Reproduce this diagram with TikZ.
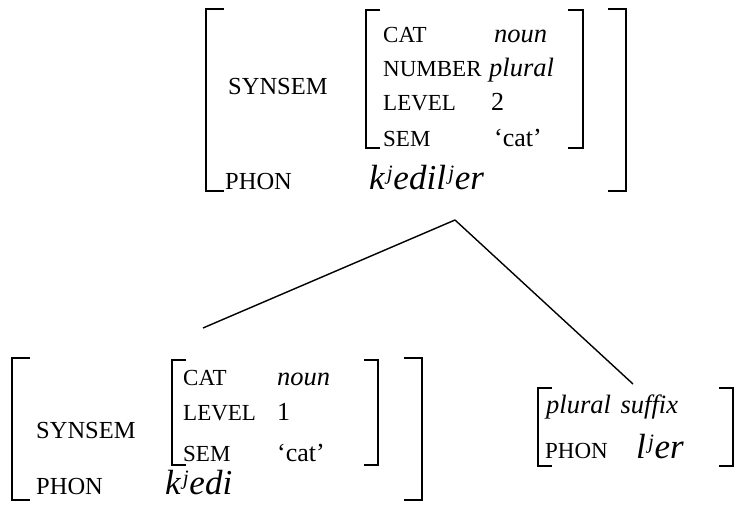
\documentclass[tikz,border=0pt]{standalone}
\usepackage{fontspec}
\setmainfont{Liberation Serif}[ItalicFont={Liberation Serif Italic}]
\newcommand{\pal}{\kern1pt ʲ\kern2pt}
\begin{document}
\begin{tikzpicture}[x=1pt,y=-1pt,
  lab/.style={anchor=base west,inner sep=0pt,font=\fontsize{23}{26}\selectfont},
  olab/.style={anchor=base west,inner sep=0pt,font=\fontsize{24.5}{27}\selectfont},
  val/.style={anchor=base west,inner sep=0pt,font=\fontsize{26.5}{29}\selectfont\itshape},
  num/.style={anchor=base west,inner sep=0pt,font=\fontsize{26}{29}\selectfont},
  phon/.style={anchor=base west,inner sep=0pt,font=\fontsize{35}{38}\selectfont\itshape},
  obr/.style={line width=2.6pt},
  ibr/.style={line width=2pt},
  branch/.style={line width=1.4pt}]
\useasboundingbox (0,0) rectangle (738,504);
% ---------- top AVM ----------
\draw[obr] (224,9) -| (206,191) -- (224,191);
\draw[obr] (608,9) -| (626,191) -- (608,191);
\draw[ibr] (380,10) -| (366,148) -- (380,148);
\draw[ibr] (568,10) -| (583,148) -- (568,148);
\node[olab] (tsyn) at (228,94) {SYNSEM};
\node[lab] (tcat) at (383,42) {CAT};
\node[val] (tcatv) at (494,42) {noun};
\node[lab] (tnum) at (383,76) {NUMBER};
\node[val] (tnumv) at (489,76) {plural};
\node[lab] (tlev) at (383,110) {LEVEL};
\node[num] (tlevv) at (491,110) {2};
\node[lab] (tsem) at (383,146) {SEM};
\node[num] (tsemv) at (494,146) {‘cat’};
\node[olab] (tphon) at (225,189) {PHON};
\node[phon] (tphonv) at (369,189) {k\pal edil\pal er};
% ---------- branches ----------
\coordinate (apex) at (455,220);
\coordinate (lend) at (203,328);
\coordinate (rend) at (633,384);
\draw[branch] (apex) -- (lend);
\draw[branch] (apex) -- (rend);
% ---------- bottom left AVM ----------
\draw[obr] (30,358) -| (12,500) -- (30,500);
\draw[obr] (404,358) -| (422,500) -- (404,500);
\draw[ibr] (186,360) -| (172,465) -- (186,465);
\draw[ibr] (364,360) -| (378,465) -- (364,465);
\node[olab] (lsyn) at (36,438) {SYNSEM};
\node[lab] (lcat) at (183,385) {CAT};
\node[val] (lcatv) at (277,385) {noun};
\node[lab] (llev) at (183,420) {LEVEL};
\node[num] (llevv) at (277,420) {1};
\node[lab] (lsem) at (183,461) {SEM};
\node[num] (lsemv) at (277,461) {‘cat’};
\node[olab] (lphon) at (36,494) {PHON};
\node[phon] (lphonv) at (165,494) {k\pal edi};
% ---------- bottom right AVM ----------
\draw[ibr] (552,388) -| (538,466) -- (552,466);
\draw[ibr] (719,388) -| (733,466) -- (719,466);
\node[val] (rsuf) at (546,413) {plural\hspace{3pt} suffix};
\node[lab] (rphon) at (545,458) {PHON};
\node[phon] (rphonv) at (636,458) {l\pal er};
\end{tikzpicture}
\end{document}
